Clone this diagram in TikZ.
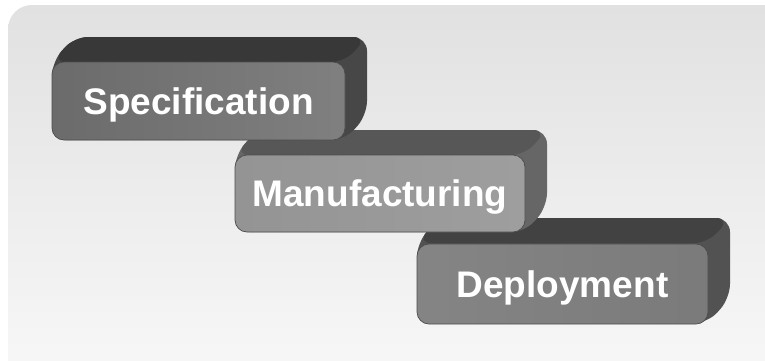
\documentclass[tikz,border=0pt]{standalone}
\usepackage{fontspec}
\setmainfont{Liberation Sans}
\usepackage{xcolor}
\definecolor{pagetop}{HTML}{E1E1E1}
\definecolor{pagebot}{HTML}{F8F8F8}
\definecolor{edgegray}{HTML}{4C4C4C}
\newcommand{\blocktext}[1]{\fontsize{37}{40}\selectfont\bfseries #1}

\begin{document}
\begin{tikzpicture}[x=1pt, y=-1pt,
    face/.style={draw=edgegray, line width=0.7pt, rounded corners=12pt,
      inner sep=0pt, text depth=0pt, text=white},
    hull/.style={rounded corners=14pt},
  ]
  \useasboundingbox (0,0) rectangle (765,360);
  \fill[white] (0,0) rectangle (765,360);
  \shade[top color=pagetop, bottom color=pagebot, rounded corners=24pt]
    (8,5) rectangle (790,385);

  % Deployment
  \fill[hull, color=black!68] (417,323) -- (417,243) -- (439,218) -- (730,218)
    -- (730,298) -- (708,323) -- cycle;
  \fill[hull, color=black!74] (417,243) -- (439,218) -- (730,218) -- (708,243) -- cycle;
  \node[face, minimum width=291pt, minimum height=80pt,
    left color=black!48, middle color=black!33, right color=black!52]
    (depl) at (562.5,284) {\blocktext{Deployment}};

  % Manufacturing
  \fill[hull, color=black!60] (235,232) -- (235,155) -- (257,130) -- (547,130)
    -- (547,207) -- (525,232) -- cycle;
  \fill[hull, color=black!66] (235,155) -- (257,130) -- (547,130) -- (525,155) -- cycle;
  \node[face, minimum width=290pt, minimum height=77pt,
    left color=black!42, middle color=black!33, right color=black!38]
    (manu) at (380,193.5) {\blocktext{Manufacturing}};

  % Specification
  \fill[hull, color=black!72] (52,140) -- (52,62) -- (74,37) -- (367,37)
    -- (367,115) -- (345,140) -- cycle;
  \fill[hull, color=black!78] (52,62) -- (74,37) -- (367,37) -- (345,62) -- cycle;
  \node[face, minimum width=293pt, minimum height=78pt,
    left color=black!58, middle color=black!38, right color=black!50]
    (spec) at (198.5,101) {\blocktext{Specification}};
\end{tikzpicture}
\end{document}
